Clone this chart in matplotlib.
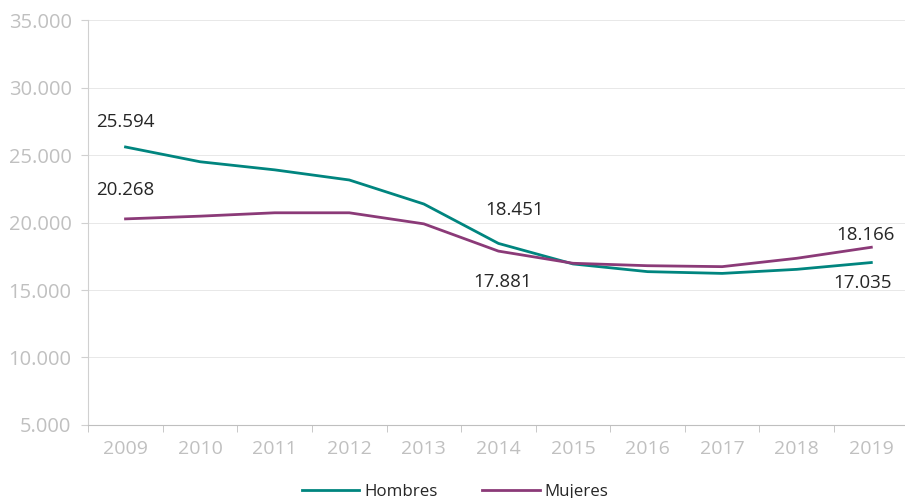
import matplotlib.pyplot as plt
from matplotlib.ticker import FuncFormatter

years = ["2009", "2010", "2011", "2012", "2013", "2014", "2015", "2016", "2017", "2018", "2019"]
hombres = [25594, 24500, 23900, 23150, 21370, 18451, 16930, 16360, 16230, 16530, 17035]
mujeres = [20268, 20470, 20720, 20720, 19900, 17881, 16980, 16800, 16730, 17350, 18166]

# which points get a value label, and where (offset in points)
labels_h = {0: (0, 18), 5: (11.5, 24), 10: (-6, -15)}
labels_m = {0: (0, 21), 5: (3, -22), 10: (-4, 8.6)}

plt.rcParams['font.family'] = ['Open Sans', 'DejaVu Sans']

fig = plt.figure(figsize=(9.05, 4.98), dpi=100)
ax = fig.add_axes([0.0975, 0.1466, 0.9065, 0.8132])

x = range(len(years))
ax.plot(x, hombres, color='#00857f', lw=2, label='Hombres')
ax.plot(x, mujeres, color='#8b3a78', lw=2, label='Mujeres')

def fmt(v):
    return f"{v:,.0f}".replace(",", ".")

for i, off in labels_h.items():
    ax.annotate(fmt(hombres[i]), (i, hombres[i]), xytext=off, textcoords='offset points',
                ha='center', va='center', fontsize=13.5, color='#262626')
for i, off in labels_m.items():
    ax.annotate(fmt(mujeres[i]), (i, mujeres[i]), xytext=off, textcoords='offset points',
                ha='center', va='center', fontsize=13.5, color='#262626')

ax.set_xlim(-0.5, len(years) - 0.5)
ax.set_ylim(5000, 35000)
ax.set_yticks(range(5000, 35001, 5000))
ax.yaxis.set_major_formatter(FuncFormatter(lambda v, p: fmt(v)))
ax.set_xticks(list(x))
ax.set_xticklabels(years)
ax.set_xticks([i - 0.5 for i in range(len(years) + 1)], minor=True)
ax.tick_params(axis='x', which='major', length=0, pad=11, labelsize=14, labelcolor='#c0c0c0')
ax.tick_params(axis='x', which='minor', length=5, color='#bfbfbf', direction='out')
ax.tick_params(axis='y', length=5, color='#d0d0d0', labelsize=14.5, labelcolor='#c0c0c0', pad=7)

ax.grid(axis='y', color='#e8e8e8', lw=0.7)
ax.set_axisbelow(True)
for s in ['top', 'right']:
    ax.spines[s].set_visible(False)
ax.spines['left'].set_color('#d0d0d0')
ax.spines['bottom'].set_color('#bfbfbf')

fig.legend(loc='center', bbox_to_anchor=(0.503, 0.013), ncol=2, frameon=False,
           fontsize=12.2, handlelength=3.4, columnspacing=2.6, handletextpad=0.3,
           labelcolor='#262626')

fig.savefig('out.png', dpi=100)
